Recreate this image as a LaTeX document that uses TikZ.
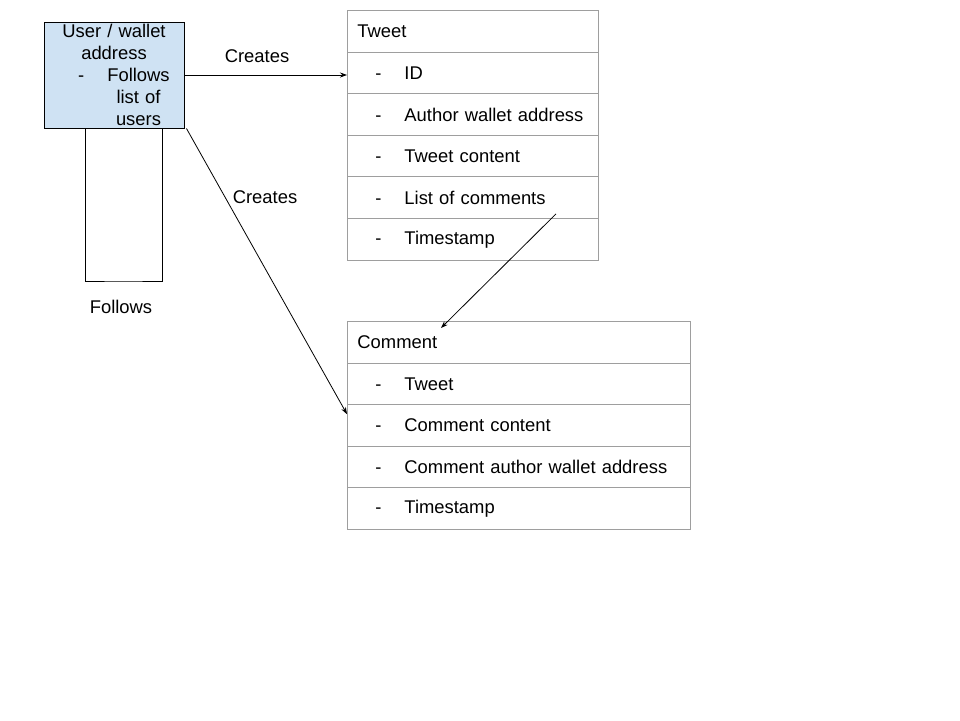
\documentclass[tikz,border=0pt]{standalone}
\usepackage{fontspec}
\setmainfont{Liberation Sans}
\usetikzlibrary{arrows.meta}
\definecolor{userfill}{HTML}{CFE2F3}
\definecolor{tblgray}{HTML}{9E9E9E}
\newcommand\ulin[2]{\makebox[130pt][l]{\makebox[59pt][l]{\hspace{29pt}#1}\makebox[61pt]{#2}}}
\newcommand\ritem[1]{\makebox[47pt][l]{\hspace{18pt}-}#1}
\begin{document}
\begin{tikzpicture}[x=1pt,y=-1pt,
  every node/.style={font=\fontsize{18.4}{22}\selectfont},
  tblrow/.style={draw=tblgray,line width=0.9pt,anchor=north west,inner xsep=10pt,inner ysep=0pt,minimum height=41.6pt,align=left},
  conn/.style={draw=black,line width=0.8pt,-{Stealth[length=7pt,width=5pt]}},
  lbl/.style={inner sep=0pt}]
\useasboundingbox (0,0) rectangle (960,720);
% user box
\node[draw=black,line width=0.9pt,fill=userfill,minimum width=140pt,minimum height=106pt,inner xsep=5pt,inner ysep=0pt,text width=130pt,align=center] (user) at (114,75)
 {User / wallet\\address\\\ulin{-}{Follows}\\\ulin{}{list of}\\\ulin{}{users}};
% tweet table
\foreach \i/\t in {0/Tweet,1/\ritem{ID},2/\ritem{Author wallet address},3/\ritem{Tweet content},4/\ritem{List of comments},5/\ritem{Timestamp}}{
  \node[tblrow,text width=231pt] (t\i) at (347,{10+41.6*\i}) {\t};
}
% comment table
\foreach \i/\t in {0/Comment,1/\ritem{Tweet},2/\ritem{Comment content},3/\ritem{Comment author wallet address},4/\ritem{Timestamp}}{
  \node[tblrow,text width=323pt] (c\i) at (347,{321+41.6*\i}) {\t};
}
% connectors
\draw[conn] (user.east) -- (t1.west |- user.east);
\node[lbl] (cr1) at (257,56) {Creates};
\draw[conn] ([xshift=2pt]user.south east) -- ([yshift=-10pt]c2.north west);
\node[lbl] (cr2) at (265,197) {Creates};
\draw[conn] ([xshift=209pt,yshift=5pt]t4.south west) -- ([xshift=94pt,yshift=-7pt]c0.north west);
% self loop
\coordinate (fb) at (123,281);
\draw[line width=0.8pt] ([xshift=-29pt]user.south) |- (fb) -| ([xshift=48pt]user.south);
\node[lbl] (fl) at (121,307) {Follows};
\end{tikzpicture}
\end{document}
